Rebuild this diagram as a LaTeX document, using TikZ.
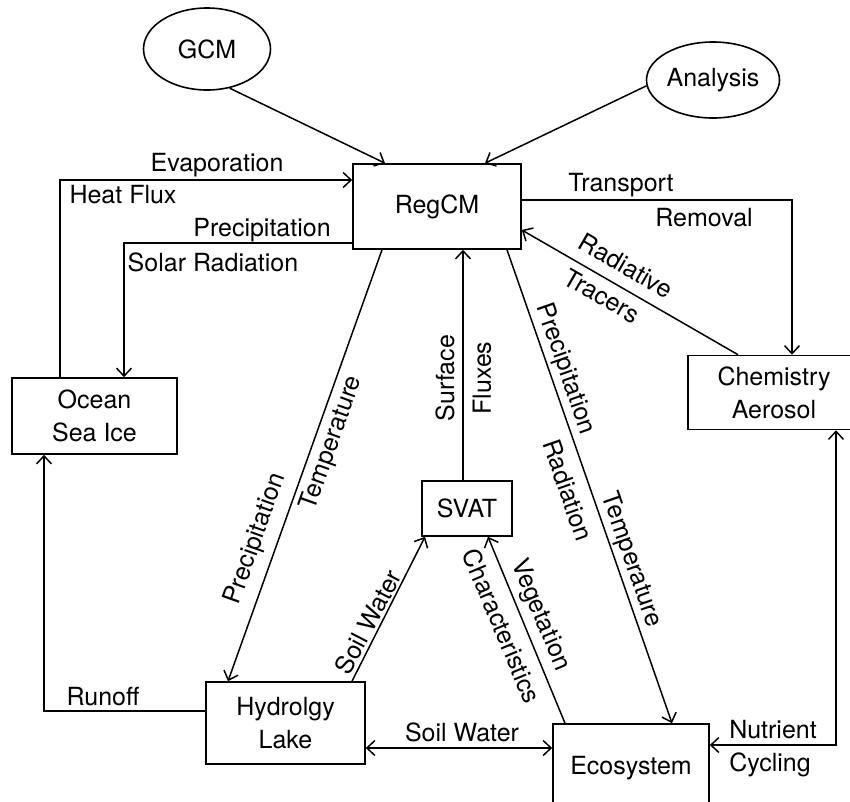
\documentclass[tikz,border=0pt]{standalone}
\usepackage{fontspec}
\setmainfont{TeX Gyre Heros}
\usetikzlibrary{arrows.meta,shapes.geometric}
\begin{document}
\begin{tikzpicture}[x=1pt,y=-1pt,
  every node/.style={font=\fontsize{25}{33}\selectfont, inner sep=0pt},
  box/.style={draw, line width=1.6pt, align=center},
  oval/.style={draw, ellipse, line width=1.6pt},
  conn/.style={line width=1.5pt},
  arr/.style={conn, -{Straight Barb[length=8pt,width=15pt]}},
  darr/.style={conn, {Straight Barb[length=8pt,width=15pt]}-{Straight Barb[length=8pt,width=15pt]}}
]
\useasboundingbox (0,0) rectangle (850,801);

% nodes
\node[oval, minimum width=127pt, minimum height=82pt] (GCM) at (207,49) {GCM};
\node[oval, minimum width=133pt, minimum height=76pt] (Analysis) at (713,80) {Analysis};
\node[box, minimum width=168pt, minimum height=85pt] (RegCM) at (437,206.5) {RegCM};
\node[box, minimum width=165pt, minimum height=76pt] (Ocean) at (94.5,416) {Ocean\\Sea Ice};
\node[box, minimum width=172pt, minimum height=74pt] (Chem) at (774,392.5) {Chemistry\\Aerosol};
\node[box, minimum width=90pt, minimum height=55pt] (SVAT) at (467,508.5) {SVAT};
\node[box, minimum width=159pt, minimum height=82pt] (Hydro) at (285.5,723) {Hydrolgy\\Lake};
\node[box, minimum width=156pt, minimum height=88pt] (Eco) at (631,768) {Ecosystem};

% connectors
\draw[arr] (GCM.-60) -- ([xshift=-52pt]RegCM.north);
\draw[arr] (Analysis.185) -- ([xshift=48pt]RegCM.north);
\draw[arr] ([xshift=-34.5pt]Ocean.north) |- ([yshift=26.5pt]RegCM.west);
\draw[arr] ([yshift=-36.5pt]RegCM.west) -| ([xshift=29.5pt]Ocean.north);
\draw[arr] ([yshift=6.5pt]RegCM.east) -| ([xshift=18pt]Chem.north);
\draw[arr] ([xshift=-36pt]Chem.north) -- ([yshift=-23.5pt]RegCM.east);
\draw[arr] ([xshift=-55pt]RegCM.south) -- ([xshift=-57.5pt]Hydro.north);
\draw[arr] ([xshift=-4pt]SVAT.north) -- ([xshift=26pt]RegCM.south);
\draw[arr] ([xshift=70pt]RegCM.south) -- ([xshift=41pt]Eco.north);
\draw[arr] ([xshift=66.5pt]Hydro.north) -- ([xshift=-42pt]SVAT.south);
\draw[arr] ([xshift=-66pt]Eco.north) -- ([xshift=21pt]SVAT.south);
\draw[arr] ([yshift=12pt]Hydro.west) -| ([xshift=-50.5pt]Ocean.south);
\coordinate (sw) at ([yshift=-25pt]Hydro.east);
\draw[darr] (sw) -- (sw -| Eco.west);
\draw[darr] ([yshift=23pt]Eco.east) -| ([xshift=62pt]Chem.south);

% labels
\node (l1) at (217,165) {Evaporation};
\node (l2) at (123,195) {Heat Flux};
\node (l3) at (262,230) {Precipitation};
\node (l4) at (213,262) {Solar Radiation};
\node (l5) at (621,185) {Transport};
\node (l6) at (704,218) {Removal};
\node[rotate=-30] (l7) at (626,266) {Radiative};
\node[rotate=-30] (l8) at (602,296) {Tracers};
\node[rotate=70.4] (l9) at (332,443) {Temperature};
\node[rotate=70.4] (l10) at (256,539) {Precipitation};
\node[rotate=90] (l11) at (445,378) {Surface};
\node[rotate=90] (l12) at (482,378) {Fluxes};
\node[rotate=-70.8] (l13) at (565,369) {Precipitation};
\node[rotate=-70.8] (l14) at (568,490) {Radiation};
\node[rotate=-70.8] (l15) at (631,560) {Temperature};
\node[rotate=62.6] (l16) at (368,622) {Soil Water};
\node[rotate=-67.2] (l17) at (502,626) {Characteristics};
\node[rotate=-67.2] (l18) at (540,615) {Vegetation};
\node (l19) at (462,732) {Soil Water};
\node (l20) at (103,697) {Runoff};
\node (l21) at (773,730) {Nutrient};
\node (l22) at (770,765) {Cycling};
\end{tikzpicture}
\end{document}
